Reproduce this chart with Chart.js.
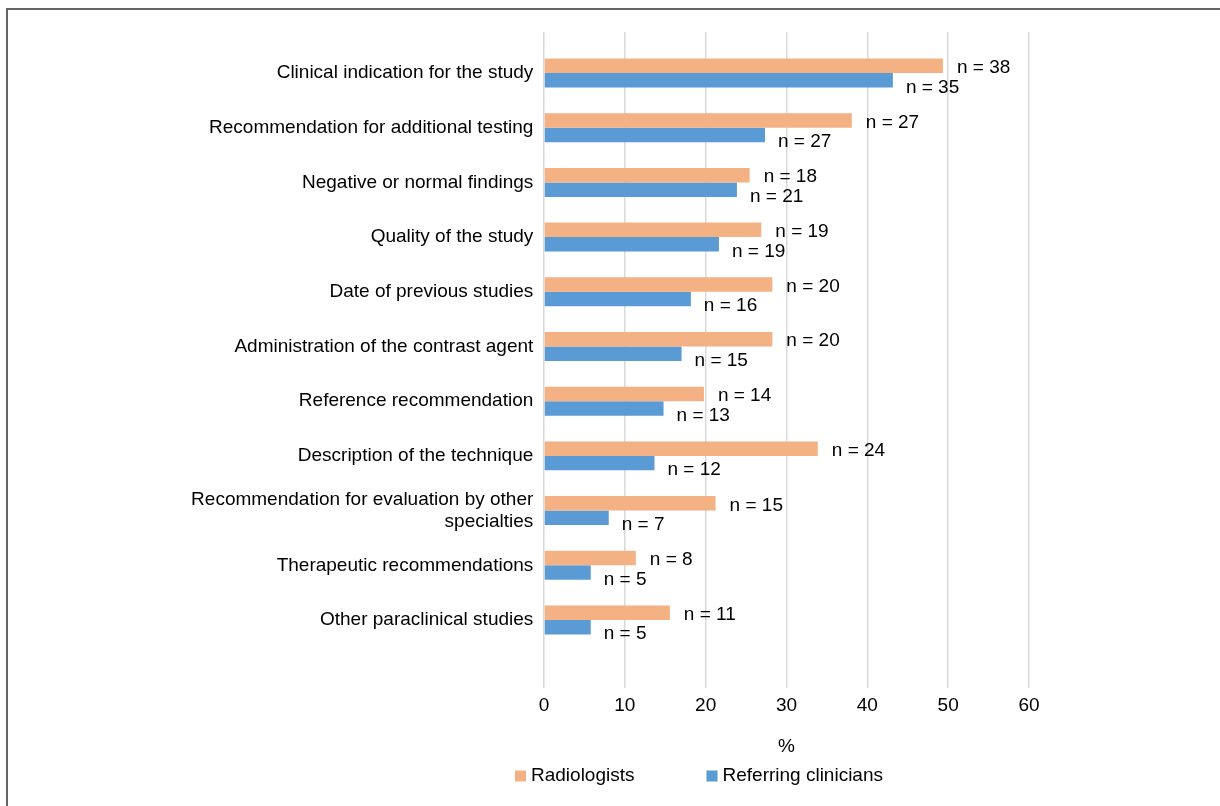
<!DOCTYPE html>
<html>
<head>
<meta charset="utf-8">
<script src="https://cdn.jsdelivr.net/npm/chart.js@4/dist/chart.umd.min.js"></script>
<style>
  html, body { margin: 0; padding: 0; background: #ffffff; overflow: hidden; }
  #wrap { position: relative; width: 1220px; height: 806px; overflow: hidden; }
  #frame { position: absolute; left: 6px; top: 8px; width: 1400px; height: 1000px;
           border-left: 2px solid #666666; border-top: 2px solid #666666; }
  #c { position: absolute; left: 0; top: 0; }
</style>
</head>
<body>
<div id="wrap">
  <div id="frame"></div>
  <canvas id="c" width="1220" height="806"></canvas>
</div>
<script>
// ---- data ----
const categories = [
  "Clinical indication for the study",
  "Recommendation for additional testing",
  "Negative or normal findings",
  "Quality of the study",
  "Date of previous studies",
  "Administration of the contrast agent",
  "Reference recommendation",
  "Description of the technique",
  ["Recommendation for evaluation by other", "specialties"],
  "Therapeutic recommendations",
  "Other paraclinical studies"
];
const seriesNames = ["Radiologists", "Referring clinicians"];
const radiologistsPct = [49.35, 38.08, 25.44, 26.88, 28.25, 28.25, 19.78, 33.87, 21.23, 11.36, 15.57];
const cliniciansPct   = [43.16, 27.34, 23.87, 21.64, 18.17, 17.02, 14.79, 13.67, 8.01, 5.78, 5.78];
const radiologistsN = [38, 27, 18, 19, 20, 20, 14, 24, 15, 8, 11];
const cliniciansN   = [35, 27, 21, 19, 16, 15, 13, 12, 7, 5, 5];
const xTickValues = [0, 10, 20, 30, 40, 50, 60];
const xAxisTitle = "%";

// ---- styles ----
const FONT = "'Liberation Sans', Arial, sans-serif";
const FS = 19;
const TEXT = "#000000";
const ORANGE = "#F4B183";
const BLUE = "#5B9BD5";

const toPoints = arr => arr.map((v, i) => ({ x: v, y: i }));

const nLabelPlugin = {
  id: 'nLabels',
  afterDatasetsDraw(chart, args, opts) {
    const ctx = chart.ctx;
    ctx.save();
    ctx.font = FS + 'px ' + FONT;
    ctx.fillStyle = TEXT;
    ctx.textAlign = 'left';
    ctx.textBaseline = 'middle';
    chart.data.datasets.forEach((ds, di) => {
      const meta = chart.getDatasetMeta(di);
      const off = opts.offsets[di];
      meta.data.forEach((bar, i) => {
        ctx.fillText('n = ' + ds.counts[i], bar.x + off.dx, bar.y + off.dy);
      });
    });
    ctx.restore();
  }
};

const legendPlugin = {
  id: 'rowLegend',
  afterDraw(chart, args, opts) {
    const ctx = chart.ctx;
    ctx.save();
    ctx.font = FS + 'px ' + FONT;
    ctx.textAlign = 'left';
    ctx.textBaseline = 'middle';
    let x = opts.x;
    chart.data.datasets.forEach(ds => {
      ctx.fillStyle = ds.backgroundColor;
      ctx.fillRect(x, opts.y - opts.box / 2, opts.box, opts.box);
      const tx = x + opts.box + opts.gap;
      ctx.fillStyle = TEXT;
      ctx.fillText(ds.label, tx, opts.y);
      x = tx + ctx.measureText(ds.label).width + opts.itemGap;
    });
    ctx.restore();
  }
};

new Chart(document.getElementById('c'), {
  type: 'bar',
  data: {
    datasets: [
      { label: seriesNames[0], data: toPoints(radiologistsPct), counts: radiologistsN,
        backgroundColor: ORANGE, borderWidth: 0 },
      { label: seriesNames[1], data: toPoints(cliniciansPct), counts: cliniciansN,
        backgroundColor: BLUE, borderWidth: 0 }
    ]
  },
  options: {
    indexAxis: 'y',
    responsive: false,
    animation: false,
    devicePixelRatio: 1,
    categoryPercentage: 0.53,
    barPercentage: 1,
    layout: { padding: { left: 10, top: 32, right: 191, bottom: 47.8 } },
    scales: {
      x: {
        type: 'linear',
        position: 'bottom',
        min: 0, max: 60,
        afterBuildTicks: s => { s.ticks = xTickValues.map(v => ({ value: v })); },
        afterFit: s => { s.height = 70.2; },
        grid: { color: '#d9d9d9', lineWidth: 1.5, drawTicks: false },
        border: { display: false },
        ticks: { color: TEXT, padding: 6.3, font: { family: FONT, size: FS, lineHeight: 1.2 } },
        title: { display: true, text: xAxisTitle, color: TEXT, padding: { top: 0, bottom: 0 },
                 font: { family: FONT, size: FS, lineHeight: 1.2 } }
      },
      y: {
        type: 'linear',
        reverse: true,
        offset: false,
        min: -0.75,
        max: 11.244,
        afterBuildTicks: s => { s.ticks = categories.map((c, i) => ({ value: i })); },
        afterFit: s => { s.width = 534; },
        grid: { display: false, drawTicks: false, offset: false },
        border: { display: false },
        ticks: {
          autoSkip: false,
          color: TEXT,
          padding: 10.7,
          font: { family: FONT, size: FS, lineHeight: 1.14 },
          callback: (v) => categories[v]
        }
      }
    },
    plugins: {
      legend: { display: false },
      tooltip: { enabled: false },
      nLabels: { offsets: [ { dx: 14, dy: 2 }, { dx: 13, dy: 7 } ] },
      rowLegend: { x: 515, y: 776, box: 11, gap: 5, itemGap: 72 }
    }
  },
  plugins: [nLabelPlugin, legendPlugin]
});
</script>
</body>
</html>
